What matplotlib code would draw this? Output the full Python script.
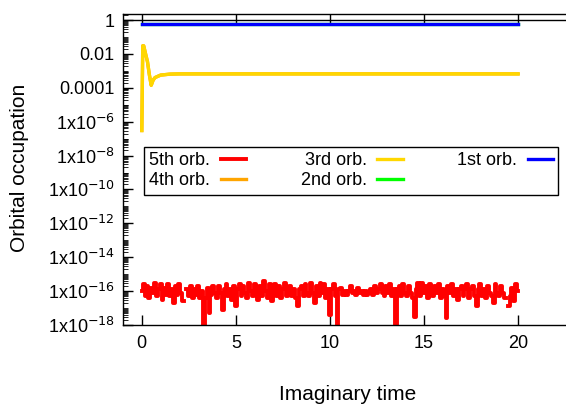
import numpy as np
import matplotlib
matplotlib.use("Agg")
from matplotlib import pyplot as plt
from matplotlib.ticker import LogLocator, FixedLocator, NullFormatter

plt.rcParams['font.family'] = ['Liberation Sans', 'DejaVu Sans']

# 5th orbital: log10 of occupation, read every 0.1 in imaginary time
nan = np.nan
t5 = np.arange(0, 201) * 0.1
log5 = [
    -16.0, -15.6, -16.3, -15.7, -16.4, -15.8, -16.1, -15.5, -16.3, -15.9,
    -15.6, -16.5, -15.8, -16.2, -15.6, -16.3, -15.9, -16.7, -15.7, -16.2,
    -15.6, -16.1, -16.6, nan, -15.9, -16.3, -15.7, -16.4, -15.9, -16.2,
    -15.7, -16.4, -16.0, -18.5, -16.4, -15.8, -17.3, -16.2, -15.7, -16.1,
    -16.4, -15.7, -16.1, -17.1, -15.9, -15.6, -16.3, -15.9, -16.5, -15.7,
    -16.9, -15.9, -15.6, -16.3, -15.7, -16.1, -16.4, -15.5, -16.0, -16.3,
    -15.6, -16.1, -16.5, -15.7, -16.3, -15.4, -16.0, -16.4, -15.6, -16.6,
    -15.9, -15.6, -16.3, -15.7, -16.4, -15.9, -15.5, -16.3, -15.9, -15.7,
    -16.3, -15.9, -16.4, -16.9, -15.9, -15.7, -16.3, -15.6, -16.1, -16.3,
    -15.5, -16.1, -16.7, -15.7, -16.3, -15.5, -16.1, -15.6, -16.4, -15.9,
    -17.4, -15.9, -15.6, -16.3, -18.5, -15.9, -15.8, -16.2, -16.0, -16.2,
    -16.0, -15.7, -16.1, -16.0, -16.2, -15.8, -16.1, -16.0, -16.2, -16.0,
    -16.2, -16.1, -15.9, -16.2, -15.7, -16.1, -15.9, -15.6, -16.1, -16.3,
    -15.7, -16.1, -15.6, -16.3, -15.9, -18.5, -15.9, -15.7, -16.3, -15.6,
    -16.1, -16.3, -15.7, -16.1, -16.4, -17.5, -15.9, -15.5, -16.3, -15.5,
    -16.1, -15.7, -16.4, -15.6, -16.1, -16.3, -15.7, -16.1, -15.6, -16.4,
    -15.9, -16.3, -17.6, -15.7, -16.1, -15.6, -16.3, -15.9, -16.5, -15.9,
    -15.7, -16.3, -15.9, -15.6, -16.4, -15.9, -15.7, -16.3, -16.9, -15.9,
    -15.6, -16.3, -15.9, -16.4, -15.7, -16.1, -16.3, -16.7, -15.6, -16.1,
    -16.3, -15.7, -16.1, -16.4, -nan, -16.9, -16.3, -15.8, -16.6, -15.6,
    -16.0,
]
occ5 = 10.0 ** np.array(log5)

# 3rd (and degenerate 4th) orbital
t3 = [0.0, 0.05, 0.1, 0.2, 0.3, 0.4, 0.5, 0.6, 0.7, 1.0, 1.5, 2.0, 20.0]
occ3 = [3e-7, 0.03, 0.03, 0.01, 0.0035, 0.0006, 0.00014, 0.00028, 0.0004,
        0.00056, 0.00064, 0.00066, 0.00066]

# 1st (and degenerate 2nd) orbital
t1 = [0.0, 20.0]
occ1 = [0.58, 0.58]

labels = ["5th orb.", "4th orb.", "3rd orb.", "2nd orb.", "1st orb."]
colors = ["#ff0000", "#ffa500", "#ffd700", "#00ff00", "#0000ff"]

fig = plt.figure(figsize=(5.66, 4.05), dpi=100)
ax = fig.add_axes([123 / 566, 80 / 405, 1 - 123 / 566, 311 / 405])

ax.plot(t5, occ5, color=colors[0], lw=2.8, drawstyle='steps-mid', label=labels[0])
ax.plot(t3, occ3, color=colors[1], lw=2.4, label=labels[1])
ax.plot(t3, occ3, color=colors[2], lw=2.4, label=labels[2])
ax.plot(t1, occ1, color=colors[3], lw=2.4, label=labels[3])
ax.plot(t1, occ1, color=colors[4], lw=2.4, label=labels[4])

ax.axhline(1.0, color='black', lw=1.0)

ax.set_yscale('log')
ax.set_xlim(-1, 22.55)
ax.set_ylim(1e-18, 2.26)

ax.spines['right'].set_visible(False)
for s in ['left', 'bottom', 'top']:
    ax.spines[s].set_linewidth(1.0)

ytick_vals = [10.0 ** e for e in range(-18, 1, 2)]
ytick_labels = []
for v in ytick_vals:
    e = int(round(np.log10(v)))
    if e == 0:
        ytick_labels.append("1")
    elif e == -2:
        ytick_labels.append("0.01")
    elif e == -4:
        ytick_labels.append("0.0001")
    else:
        ytick_labels.append(r"1x10$^{%d}$" % e)
ax.yaxis.set_major_locator(FixedLocator(ytick_vals))
ax.set_yticklabels(ytick_labels)
ax.yaxis.set_minor_locator(LogLocator(base=10, subs=np.arange(1, 10), numticks=100))
ax.yaxis.set_minor_formatter(NullFormatter())

ax.set_xticks([0, 5, 10, 15, 20])
ax.tick_params(axis='both', which='major', direction='in', labelsize=13, length=7, width=1)
ax.tick_params(axis='y', which='minor', direction='in', length=3.5, width=0.6)
ax.tick_params(axis='x', top=True, pad=7)
ax.tick_params(axis='y', right=False, pad=6)

fig.text(20 / 566, 1 - 168 / 405, "Orbital occupation", rotation=90,
         ha='center', va='center', fontsize=15)
fig.text(348 / 566, 5 / 405, "Imaginary time", ha='center', va='baseline', fontsize=15)

leg = ax.legend(ncol=3, loc='upper left', bbox_to_anchor=(144 / 566, 1 - 147 / 405),
                bbox_transform=fig.transFigure, markerfirst=False, fontsize=13,
                handlelength=1.4, handletextpad=0.6, columnspacing=3.0,
                borderpad=0.3, labelspacing=0.15, fancybox=False, framealpha=1,
                borderaxespad=0)
leg.get_frame().set_edgecolor('black')
leg.get_frame().set_linewidth(1.0)

fig.savefig("out.png", dpi=100)
